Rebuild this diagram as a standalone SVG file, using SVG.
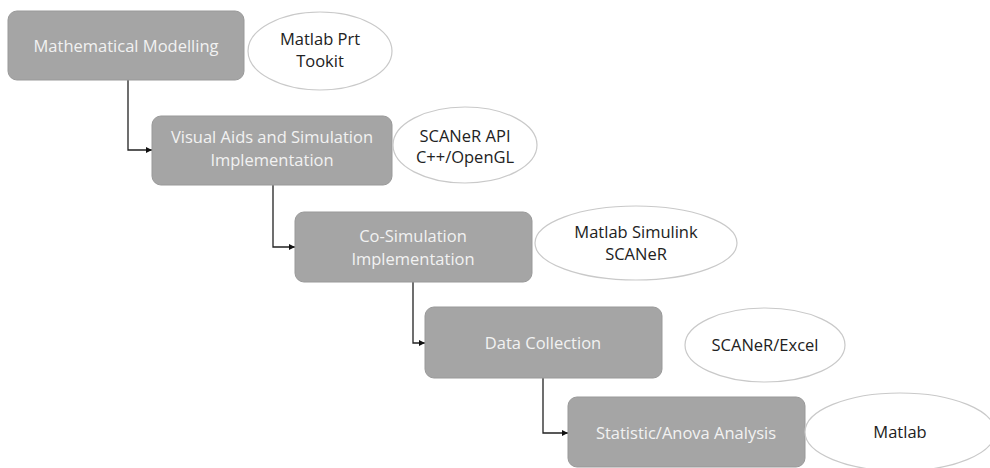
<svg xmlns="http://www.w3.org/2000/svg" width="990" height="468" viewBox="0 0 990 468">
<defs>
<marker id="arr" viewBox="0 0 10 10" refX="10" refY="5" markerWidth="6" markerHeight="6" markerUnits="userSpaceOnUse" orient="auto">
<path d="M0,0 L10,5 L0,10 z" fill="#111"/>
</marker>
</defs>
<style>
.box{fill:#a5a5a5;stroke:#999;stroke-width:1}
.bt{font-family:"Open Sans","Liberation Sans",Arial,sans-serif;font-size:16.5px;fill:#f2f2f2;text-anchor:middle}
.ell{fill:#fff;stroke:#c9c9c9;stroke-width:1.2}
.et{font-family:"Open Sans","Liberation Sans",Arial,sans-serif;font-size:16.5px;fill:#222;text-anchor:middle}
.con{fill:none;stroke:#222;stroke-width:1.3;marker-end:url(#arr)}
</style>
<rect width="990" height="468" fill="#fff"/>
<g id="connectors">
<path class="con" d="M128,80 V150 H152"/>
<path class="con" d="M273,185 V247 H295"/>
<path class="con" d="M413,282 V343 H425"/>
<path class="con" d="M543,378 V433 H568"/>
</g>
<g id="n1">
<rect class="box" x="8" y="11" width="236" height="69" rx="9"/>
<text class="bt" x="126" y="51.5">Mathematical Modelling</text>
</g>
<g id="e1">
<ellipse class="ell" cx="320" cy="51" rx="72" ry="39"/>
<text class="et" x="320" y="45">Matlab Prt</text>
<text class="et" x="320" y="67">Tookit</text>
</g>
<g id="n2">
<rect class="box" x="152" y="116" width="240" height="69" rx="9"/>
<text class="bt" x="272" y="143">Visual Aids and Simulation</text>
<text class="bt" x="272" y="166">Implementation</text>
</g>
<g id="e2">
<ellipse class="ell" cx="465" cy="145" rx="72" ry="38"/>
<text class="et" x="465" y="142">SCANeR API</text>
<text class="et" x="465" y="163">C++/OpenGL</text>
</g>
<g id="n3">
<rect class="box" x="295" y="212" width="237" height="70" rx="9"/>
<text class="bt" x="413" y="242">Co-Simulation</text>
<text class="bt" x="413" y="265">Implementation</text>
</g>
<g id="e3">
<ellipse class="ell" cx="636" cy="243" rx="101" ry="37"/>
<text class="et" x="636" y="238">Matlab Simulink</text>
<text class="et" x="636" y="260">SCANeR</text>
</g>
<g id="n4">
<rect class="box" x="425" y="307" width="237" height="71" rx="9"/>
<text class="bt" x="543" y="348.5">Data Collection</text>
</g>
<g id="e4">
<ellipse class="ell" cx="765" cy="345" rx="80" ry="37"/>
<text class="et" x="765" y="350.5">SCANeR/Excel</text>
</g>
<g id="n5">
<rect class="box" x="568" y="397" width="237" height="70" rx="9"/>
<text class="bt" x="686" y="438.5">Statistic/Anova Analysis</text>
</g>
<g id="e5">
<ellipse class="ell" cx="900" cy="432" rx="95" ry="39"/>
<text class="et" x="900" y="438">Matlab</text>
</g>
</svg>
